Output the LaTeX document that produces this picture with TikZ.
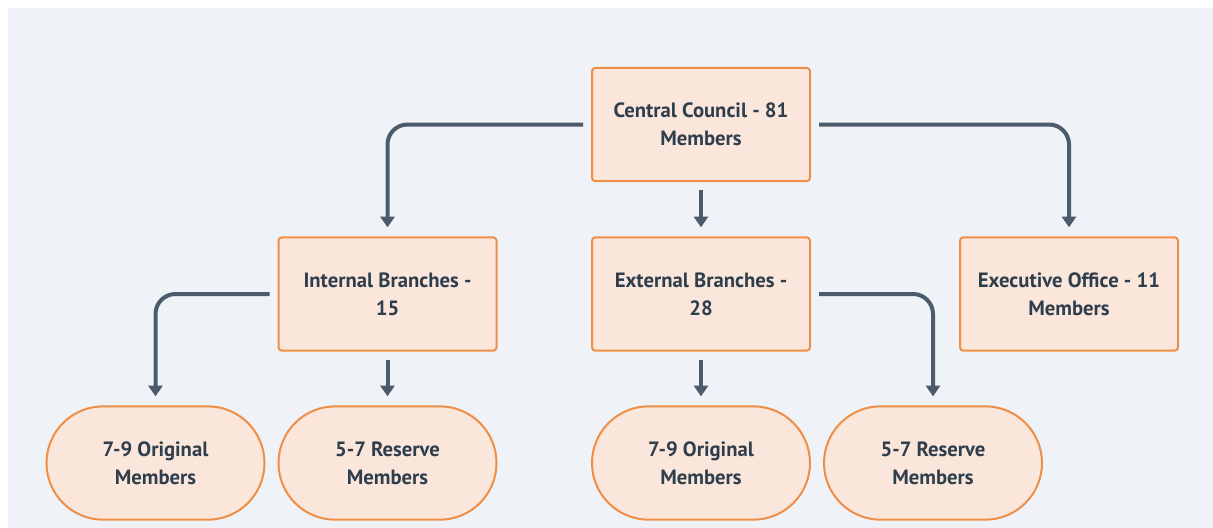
\documentclass[tikz,border=0pt]{standalone}
\usepackage{fontspec}
\setmainfont{PT Sans}
\usetikzlibrary{arrows.meta,shapes.misc}
\definecolor{bgc}{HTML}{EFF3F7}
\definecolor{boxfill}{HTML}{FAE6DA}
\definecolor{boxline}{HTML}{EE8E47}
\definecolor{txt}{HTML}{2F3E4D}
\definecolor{conn}{HTML}{4B5B6B}
\tikzset{
  box/.style={draw=boxline, fill=boxfill, line width=1.5pt, rounded corners=2.5pt,
    minimum width=163.5pt, minimum height=85pt, align=center, text=txt,
    font=\bfseries\fontsize{15.5}{21}\selectfont, inner sep=0pt},
  pill/.style={box, rounded rectangle, rounded corners=0pt},
  link/.style={draw=conn, line width=3pt, rounded corners=15pt,
    -{Triangle[width=10.5pt,length=8pt]}},
}
\begin{document}
\begin{tikzpicture}[x=0.75pt,y=-0.75pt]
\useasboundingbox (0,0) rectangle (1213,528);
\fill[bgc] (8,8) rectangle (1213,528);
\node[box] (cc) at (701,124.5) {Central Council - 81\\Members};
\node[box] (ib) at (387.5,294) {Internal Branches -\\15};
\node[box] (eb) at (701,294) {External Branches -\\28};
\node[box] (eo) at (1069,294) {Executive Office - 11\\Members};
\node[pill] (io) at (155.5,463) {7-9 Original\\Members};
\node[pill] (ir) at (387.5,463) {5-7 Reserve\\Members};
\node[pill] (eo2) at (701,463) {7-9 Original\\Members};
\node[pill] (er) at (933,463) {5-7 Reserve\\Members};
\draw[link] ([xshift=-6pt]cc.west) -| ([yshift=6.75pt]ib.north);
\draw[link] ([yshift=-6pt]cc.south) -- ([yshift=6.75pt]eb.north);
\draw[link] ([xshift=6pt]cc.east) -| ([yshift=6.75pt]eo.north);
\draw[link] ([xshift=-6pt]ib.west) -| ([yshift=6.75pt]io.north);
\draw[link] ([yshift=-6pt]ib.south) -- ([yshift=6.75pt]ir.north);
\draw[link] ([yshift=-6pt]eb.south) -- ([yshift=6.75pt]eo2.north);
\draw[link] ([xshift=6pt]eb.east) -| ([yshift=6.75pt]er.north);
\end{tikzpicture}
\end{document}
